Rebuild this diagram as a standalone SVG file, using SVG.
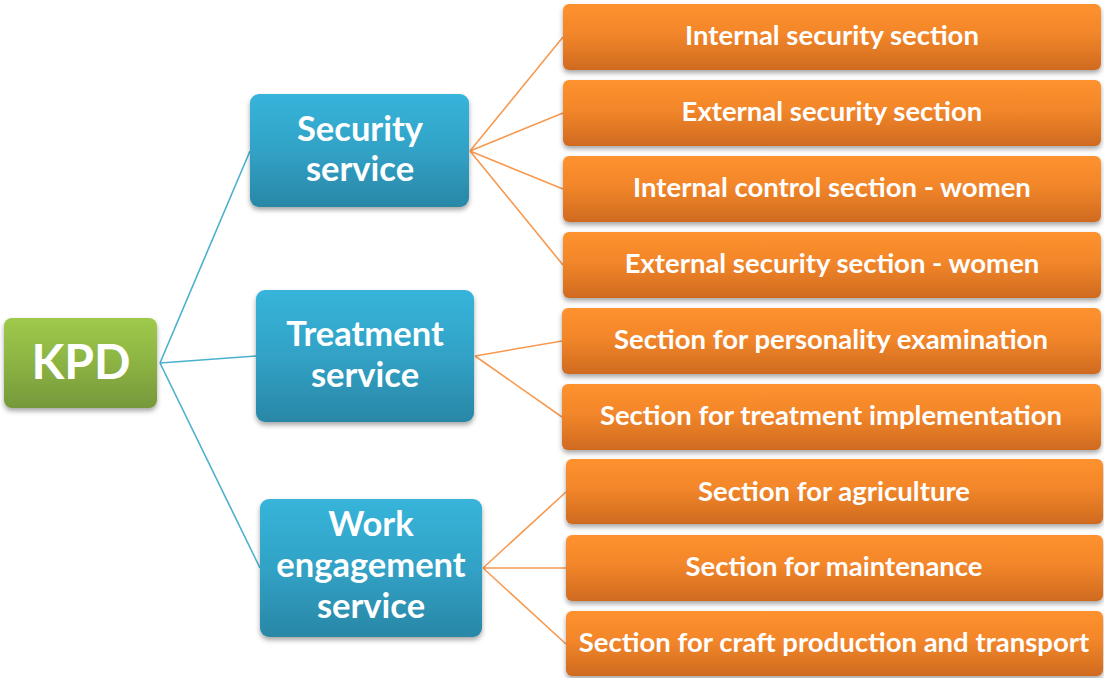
<svg xmlns="http://www.w3.org/2000/svg" width="1104" height="678" viewBox="0 0 1104 678">
  <defs>
    <linearGradient id="gOrange" x1="0" y1="0" x2="0" y2="1">
      <stop offset="0" stop-color="#FF922E"/>
      <stop offset="0.45" stop-color="#F2862A"/>
      <stop offset="1" stop-color="#CF6A1F"/>
    </linearGradient>
    <linearGradient id="gBlue" x1="0" y1="0" x2="0" y2="1">
      <stop offset="0" stop-color="#37B4DA"/>
      <stop offset="0.5" stop-color="#31A2C6"/>
      <stop offset="1" stop-color="#2A87A6"/>
    </linearGradient>
    <linearGradient id="gGreen" x1="0" y1="0" x2="0" y2="1">
      <stop offset="0" stop-color="#9FCA4B"/>
      <stop offset="0.5" stop-color="#8CB343"/>
      <stop offset="1" stop-color="#76983A"/>
    </linearGradient>
    <filter id="shadow" x="-10%" y="-10%" width="120%" height="130%">
      <feDropShadow dx="0" dy="3" stdDeviation="2.5" flood-color="#000" flood-opacity="0.35"/>
    </filter>
  </defs>
  <style>
    .box { filter: url(#shadow); }
    .orange { fill: url(#gOrange); }
    .blue { fill: url(#gBlue); }
    .green { fill: url(#gGreen); }
    text { font-family: Lato, "Open Sans", "Liberation Sans", sans-serif; font-weight: bold; fill: #fff; text-anchor: middle; }
    .t-sec { font-size: 27.5px; }
    .t-svc { font-size: 34.5px; }
    .t-root { font-size: 48px; }
    .c-blue { stroke: #4CB0CE; stroke-width: 1.6; fill: none; }
    .c-orange { stroke: #F7994F; stroke-width: 1.6; fill: none; }
  </style>

  <rect width="1104" height="678" fill="#fff"/>

  <g id="connectors">
    <path class="c-blue" d="M160 363 L250 151 M160 363 L256 356 M160 363 L260 568"/>
    <path class="c-orange" d="M470 151 L563 37 M470 151 L563 113 M470 151 L563 189 M470 151 L563 265"/>
    <path class="c-orange" d="M475 356 L562 341 M475 356 L562 417"/>
    <path class="c-orange" d="M483 568 L566 492 M483 568 L566 568 M483 568 L566 644"/>
  </g>

  <g id="kpd">
    <rect class="box green" x="4" y="318" width="153" height="90" rx="8"/>
    <text class="t-root" x="81" y="379">KPD</text>
  </g>

  <g id="security-service">
    <rect class="box blue" x="250" y="94" width="219" height="113" rx="9"/>
    <text class="t-svc" x="360" y="141">Security</text>
    <text class="t-svc" x="360" y="181">service</text>
  </g>

  <g id="treatment-service">
    <rect class="box blue" x="256" y="290" width="218" height="132" rx="9"/>
    <text class="t-svc" x="365" y="346">Treatment</text>
    <text class="t-svc" x="365" y="387">service</text>
  </g>

  <g id="work-engagement-service">
    <rect class="box blue" x="260" y="499" width="222" height="138" rx="9"/>
    <text class="t-svc" x="371" y="536">Work</text>
    <text class="t-svc" x="371" y="577">engagement</text>
    <text class="t-svc" x="371" y="618">service</text>
  </g>

  <g id="internal-security-section">
    <rect class="box orange" x="563" y="4" width="538" height="66" rx="6"/>
    <text class="t-sec" x="832" y="45">Internal security section</text>
  </g>
  <g id="external-security-section">
    <rect class="box orange" x="563" y="80" width="538" height="66" rx="6"/>
    <text class="t-sec" x="832" y="121">External security section</text>
  </g>
  <g id="internal-control-women">
    <rect class="box orange" x="563" y="156" width="538" height="66" rx="6"/>
    <text class="t-sec" x="832" y="197">Internal control section - women</text>
  </g>
  <g id="external-security-women">
    <rect class="box orange" x="563" y="232" width="538" height="66" rx="6"/>
    <text class="t-sec" x="832" y="273">External security section - women</text>
  </g>
  <g id="personality-examination">
    <rect class="box orange" x="562" y="308" width="539" height="66" rx="6"/>
    <text class="t-sec" x="831" y="349">Section for personality examination</text>
  </g>
  <g id="treatment-implementation">
    <rect class="box orange" x="562" y="384" width="539" height="66" rx="6"/>
    <text class="t-sec" x="831" y="425">Section for treatment implementation</text>
  </g>
  <g id="agriculture">
    <rect class="box orange" x="566" y="459" width="537" height="65" rx="6"/>
    <text class="t-sec" x="834" y="501">Section for agriculture</text>
  </g>
  <g id="maintenance">
    <rect class="box orange" x="566" y="535" width="537" height="66" rx="6"/>
    <text class="t-sec" x="834" y="576">Section for maintenance</text>
  </g>
  <g id="craft-production-transport">
    <rect class="box orange" x="566" y="611" width="537" height="65" rx="6"/>
    <text class="t-sec" x="834" y="652">Section for craft production and transport</text>
  </g>
</svg>
